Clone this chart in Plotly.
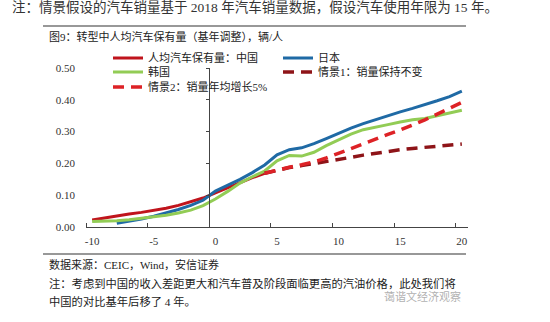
import plotly.graph_objects as go

# ---------------- data ----------------
china_x = list(range(-10, 5))
china = [0.022, 0.029, 0.036, 0.041, 0.046, 0.052, 0.059, 0.068, 0.079, 0.091,
         0.107, 0.123, 0.140, 0.155, 0.169]

japan_x = list(range(-8, 21))
japan = [0.012, 0.018, 0.025, 0.034, 0.044, 0.055, 0.068, 0.084, 0.113, 0.131,
         0.150, 0.171, 0.195, 0.227, 0.243, 0.249, 0.262, 0.278, 0.295, 0.311,
         0.325, 0.338, 0.350, 0.362, 0.373, 0.384, 0.397, 0.410, 0.427]

korea_x = list(range(-10, 21))
korea = [0.017, 0.018, 0.020, 0.023, 0.027, 0.031, 0.037, 0.044, 0.053, 0.067,
         0.088, 0.112, 0.138, 0.158, 0.176, 0.208, 0.225, 0.223, 0.235, 0.256,
         0.274, 0.292, 0.306, 0.315, 0.322, 0.330, 0.337, 0.341, 0.349, 0.358,
         0.367]

scen_x = list(range(4, 21))
scen1 = [0.169, 0.179, 0.187, 0.193, 0.199, 0.205, 0.212, 0.219, 0.226, 0.232,
         0.238, 0.243, 0.247, 0.251, 0.255, 0.258, 0.261]
scen2 = [0.169, 0.179, 0.188, 0.196, 0.205, 0.217, 0.232, 0.248, 0.263, 0.277,
         0.291, 0.305, 0.320, 0.337, 0.355, 0.374, 0.392]

x_tick_vals = [-10, -5, 0, 5, 10, 15, 20]
x_tick_text = ["-10", "-5", "0", "5", "10", "15", "20"]
y_tick_vals = [0.0, 0.1, 0.2, 0.3, 0.4, 0.5]
y_tick_text = ["0.00", "0.10", "0.20", "0.30", "0.40", "0.50"]

names = ["人均汽车保有量：中国", "日本", "韩国", "情景1：销量保持不变", "情景2：销量年均增长5%"]

# ---------------- layout helpers ----------------
W, H = 550, 322
ML, MR, MT, MB = 86, 82, 68, 95
PW, PH = W - ML - MR, H - MT - MB


def px2x(px):
    return (px - ML) / PW


def py2y(py):
    return (H - MB - py) / PH


FONT = "Liberation Serif, Noto Sans CJK SC, serif"
DASH = "11px,7px"

fig = go.Figure()
# empty trace that only makes the divider axis (at the category boundary before 0) render
fig.add_trace(go.Scatter(x=[], y=[], yaxis="y2", showlegend=False, hoverinfo="skip"))
fig.add_trace(go.Scatter(x=china_x, y=china, name=names[0], mode="lines",
                         line=dict(color="#C0141C", width=3), legend="legend"))
fig.add_trace(go.Scatter(x=japan_x, y=japan, name=names[1], mode="lines",
                         line=dict(color="#1F6AA5", width=3), legend="legend"))
fig.add_trace(go.Scatter(x=korea_x, y=korea, name=names[2], mode="lines",
                         line=dict(color="#92CC55", width=3), legend="legend2"))
fig.add_trace(go.Scatter(x=scen_x, y=scen1, name=names[3], mode="lines",
                         line=dict(color="#8E1418", width=3.5, dash=DASH), legend="legend2"))
fig.add_trace(go.Scatter(x=scen_x, y=scen2, name=names[4], mode="lines",
                         line=dict(color="#DD2226", width=3.5, dash=DASH), legend="legend3"))

leg_common = dict(orientation="h", x=px2x(108), xanchor="left", yanchor="middle",
                  entrywidth=125, entrywidthmode="pixels", bgcolor="rgba(0,0,0,0)",
                  font=dict(family=FONT, size=11, color="#222"), itemwidth=30,
                  traceorder="normal")

fig.update_layout(
    width=W, height=H,
    margin=dict(l=ML, r=MR, t=MT, b=MB),
    paper_bgcolor="white", plot_bgcolor="white",
    showlegend=True,
    legend=dict(y=py2y(58), **leg_common),
    legend2=dict(y=py2y(72), **leg_common),
    legend3=dict(y=py2y(87), **leg_common),
    xaxis=dict(range=[-10.5, 20.5], tickvals=x_tick_vals, ticktext=x_tick_text,
               ticks="", showline=True, linecolor="#444", linewidth=1,
               showgrid=False, zeroline=False, ticklabelstandoff=4,
               tickfont=dict(family=FONT, size=11, color="#333"),
               minor=dict(tickvals=[v - 0.5 for v in x_tick_vals], ticks="inside",
                          ticklen=4, tickcolor="#444", showgrid=False)),
    yaxis=dict(range=[0, 0.5], tickvals=y_tick_vals, ticktext=y_tick_text,
               ticks="", showline=False, showgrid=False, zeroline=False,
               ticklabelstandoff=10,
               tickfont=dict(family=FONT, size=11, color="#333")),
    yaxis2=dict(range=[0, 0.5], overlaying="y", anchor="free", position=10 / 31,
                side="left", showline=True, linecolor="#444", linewidth=1,
                ticks="outside", ticklen=3, tickcolor="#444", tickvals=y_tick_vals,
                showticklabels=False, showgrid=False, zeroline=False),
)

# horizontal rules
for py in (26, 254):
    fig.add_shape(type="line", xref="paper", yref="paper",
                  x0=px2x(43), x1=px2x(466), y0=py2y(py), y1=py2y(py),
                  line=dict(color="#333", width=1.2))


def note(text, px, py, size, color="#222"):
    fig.add_annotation(text=text, xref="paper", yref="paper", x=px2x(px), y=py2y(py),
                       xanchor="left", yanchor="middle", showarrow=False,
                       font=dict(family=FONT, size=size, color=color))


note("注：情景假设的汽车销量基于 2018 年汽车销量数据，假设汽车使用年限为 15 年。", 10, 7, 13.5, "#333")
note("图9：转型中人均汽车保有量（基年调整），辆/人", 47, 36, 11)
note("数据来源：CEIC，Wind，安信证券", 47, 264, 11)
note("注：考虑到中国的收入差距更大和汽车普及阶段面临更高的汽油价格，此处我们将", 47, 283, 11.3)
note("中国的对比基年后移了 4 年。", 47, 301, 11.3)
note("蔼谐文经济观察", 382, 296, 11, "rgba(150,150,150,0.75)")

fig.write_html("out.html")
